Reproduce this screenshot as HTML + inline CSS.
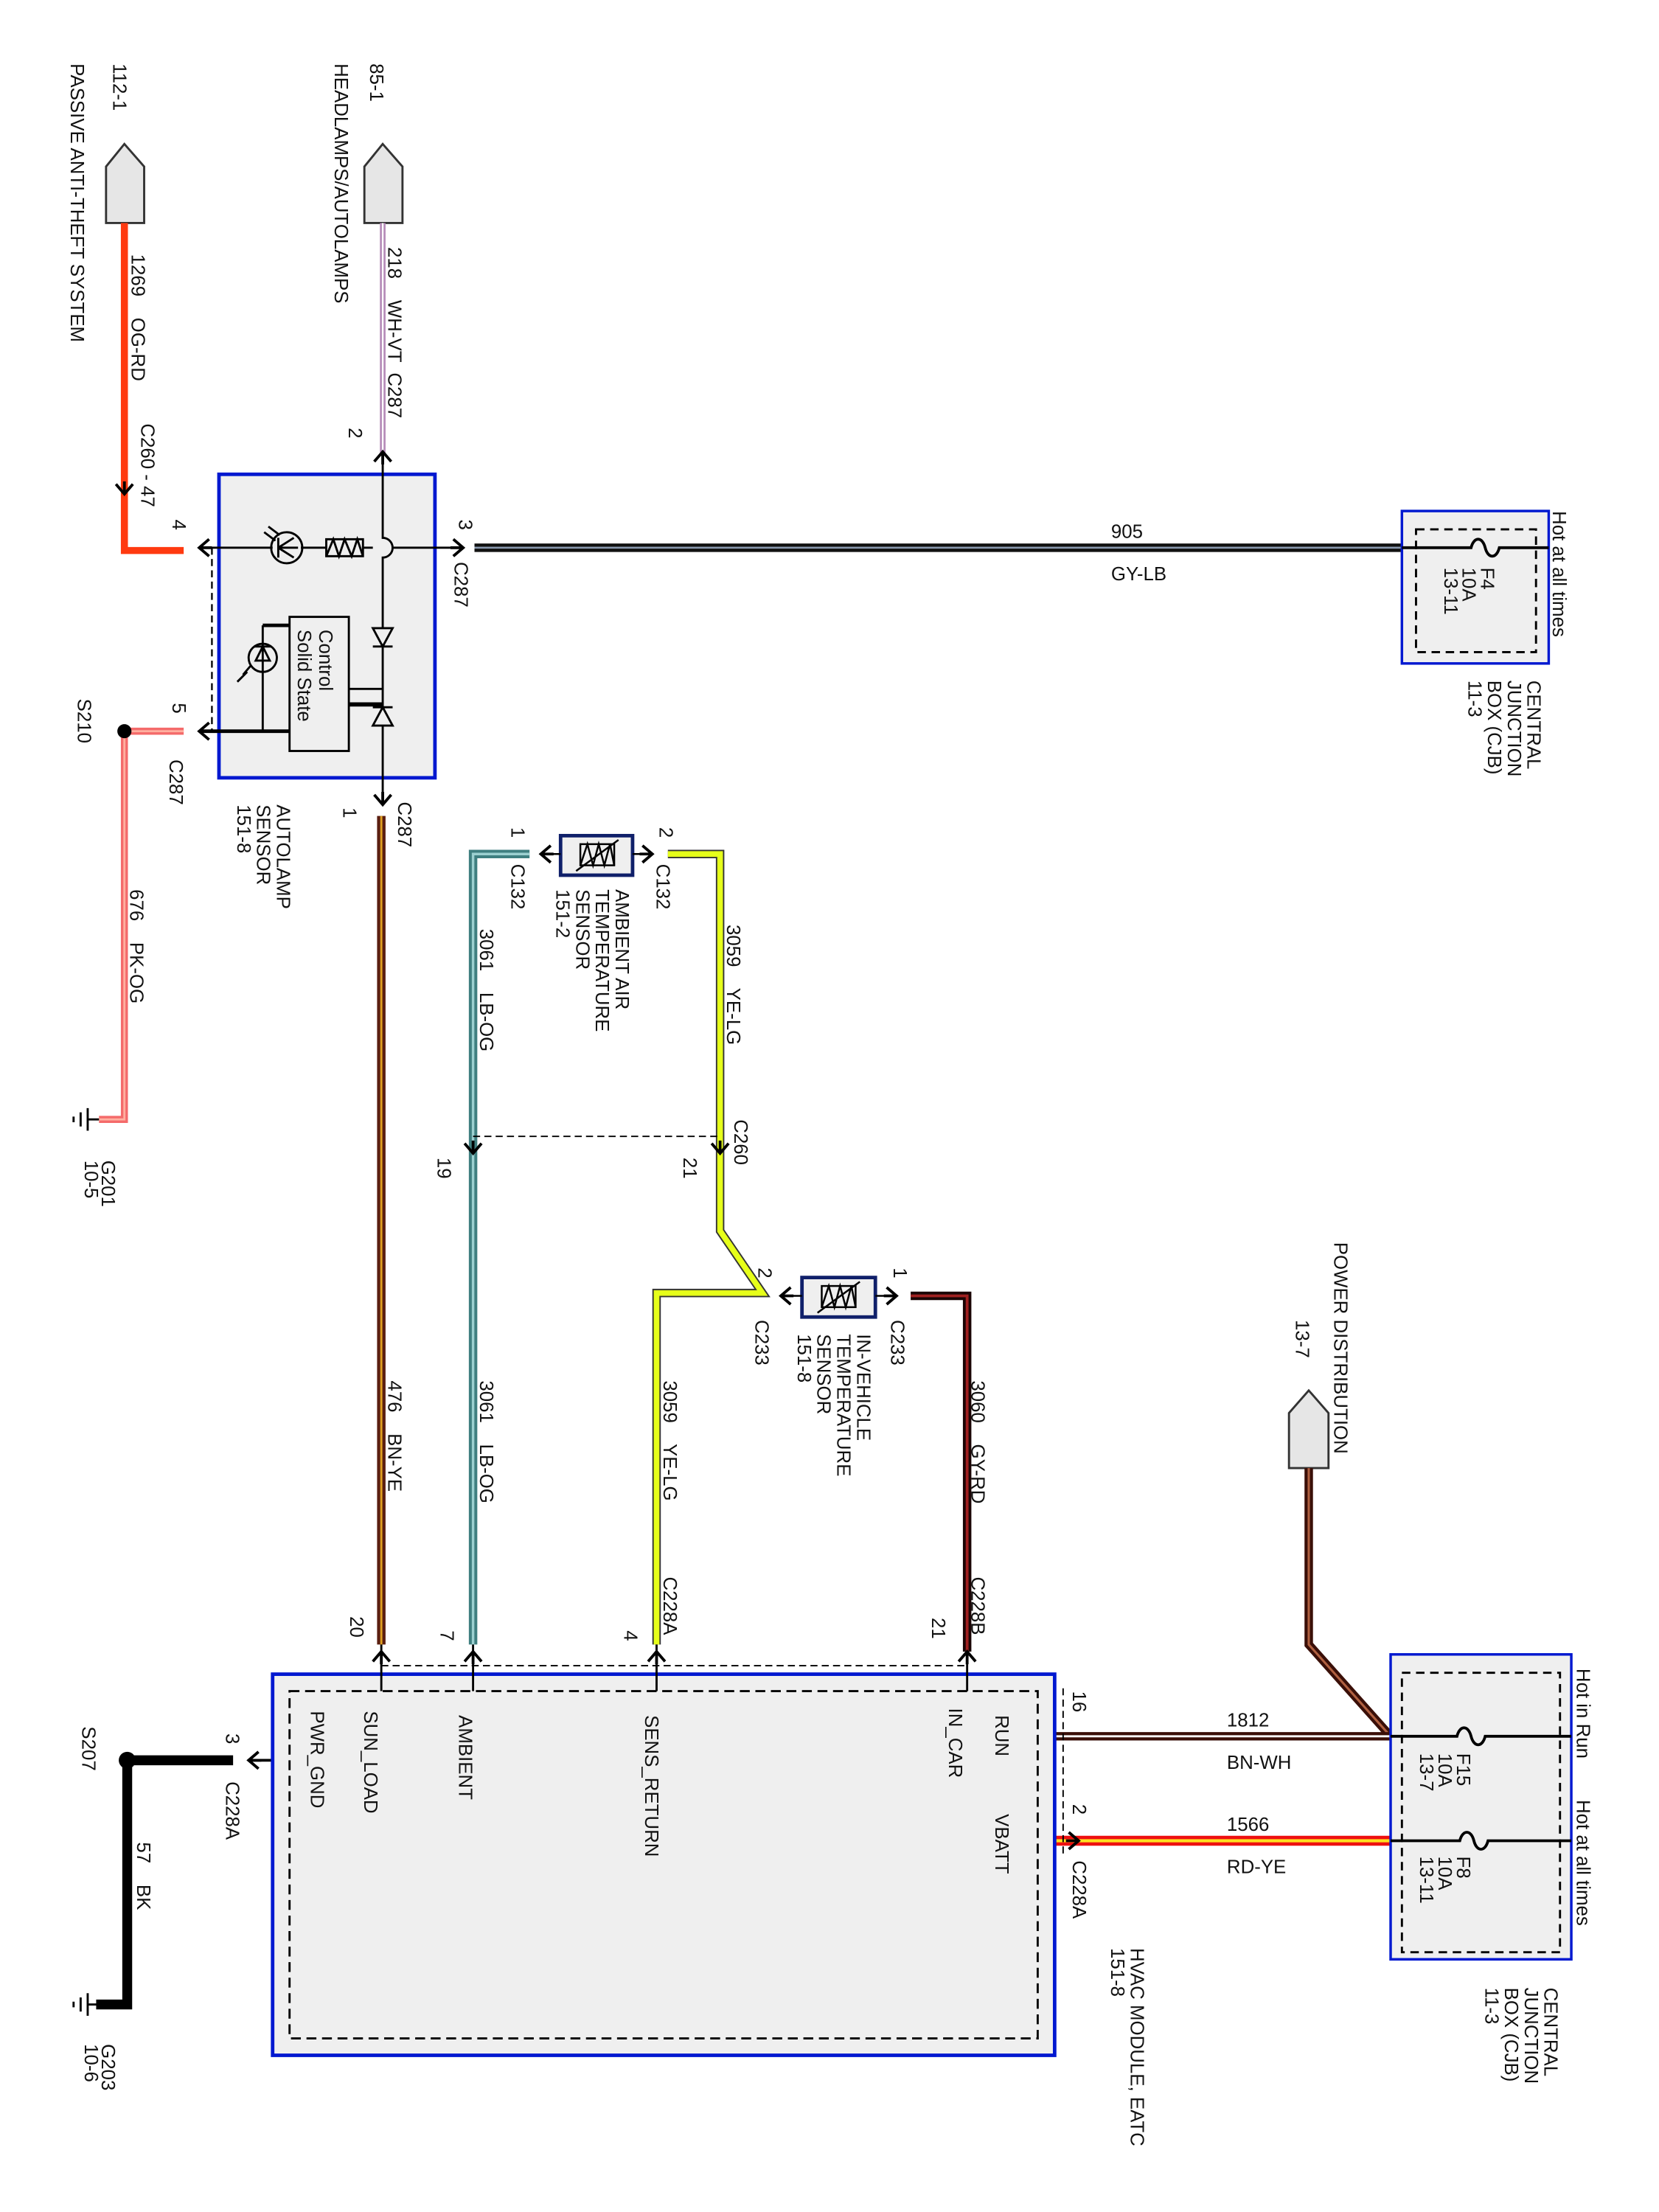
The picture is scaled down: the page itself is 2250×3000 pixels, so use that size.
<!DOCTYPE html>
<html><head><meta charset="utf-8"><style>
html,body{margin:0;padding:0;background:#fff;width:2250px;height:3000px;overflow:hidden}
svg text{font-family:"Liberation Sans",Arial,sans-serif;font-size:13.5px;fill:#111;white-space:pre}
</style></head><body>
<svg width="2250" height="3000" viewBox="0 0 1175 1567" xmlns="http://www.w3.org/2000/svg" xml:space="preserve">
<defs>
<path id="chev" d="M-6,-5 L0,2 L6,-5 M0,2 L0,-7" fill="none" stroke="#000" stroke-width="2"/>
</defs>
<rect width="1175" height="1567" fill="#fff"/>

<path d="M88,102 L102,118 L102,158 L75,158 L75,118 Z" fill="#e6e6e6" stroke="#333" stroke-width="1.5"/>
<path d="M271,102 L285,118 L285,158 L258,158 L258,118 Z" fill="#e6e6e6" stroke="#333" stroke-width="1.5"/>
<path d="M927,985 L941,1001 L941,1040 L913,1040 L913,1001 Z" fill="#e6e6e6" stroke="#333" stroke-width="1.5"/>

<path d="M88,158 L88,390 L130,390" fill="none" stroke="#ff3a10" stroke-width="5"/>
<path d="M271,158 L271,322" fill="none" stroke="#b58ab8" stroke-width="4"/>
<path d="M271,158 L271,322" fill="none" stroke="#fff" stroke-width="1.2"/>
<path d="M336,388 L993,388" stroke="#111" stroke-width="6"/>
<path d="M336,388 L993,388" stroke="#8a9ab0" stroke-width="1.4"/>
<path d="M130,518 L88,518 L88,793 L70,793" fill="none" stroke="#f46a6a" stroke-width="5"/>
<path d="M130,518 L88,518 L88,793 L70,793" fill="none" stroke="#ffb0a0" stroke-width="1.5"/>
<path d="M270,578 L270,1165" stroke="#5a1e10" stroke-width="6"/>
<path d="M270,578 L270,1165" stroke="#e0a020" stroke-width="1.5"/>
<path d="M375,605 L335,605 L335,1165" fill="none" stroke="#3f7f80" stroke-width="6"/>
<path d="M375,605 L335,605 L335,1165" fill="none" stroke="#9cd0d0" stroke-width="1.8"/>
<path d="M473,605 L510,605 L510,872 L540,916 L465,916 L465,1165" fill="none" stroke="#333" stroke-width="6"/>
<path d="M473,605 L510,605 L510,872 L540,916 L465,916 L465,1165" fill="none" stroke="#e6ff1a" stroke-width="4"/>
<path d="M645,918 L685,918 L685,1170" fill="none" stroke="#1a0505" stroke-width="6"/>
<path d="M645,918 L685,918 L685,1170" fill="none" stroke="#a02020" stroke-width="2"/>
<path d="M927,1040 L927,1165 L985,1230" fill="none" stroke="#3a0f08" stroke-width="6"/>
<path d="M927,1040 L927,1165 L985,1230" fill="none" stroke="#b06040" stroke-width="1.6"/>
<path d="M747,1230 L985,1230" stroke="#3a0f08" stroke-width="6"/>
<path d="M747,1230 L985,1230" stroke="#fff" stroke-width="1.5"/>
<path d="M747,1304 L985,1304" stroke="#ee1010" stroke-width="7"/>
<path d="M747,1304 L985,1304" stroke="#ffe020" stroke-width="2.2"/>
<path d="M165,1247 L90,1247 L90,1420 L68,1420" fill="none" stroke="#000" stroke-width="7"/>
<line x1="735" y1="1230" x2="747" y2="1230" stroke="#000" stroke-width="2"/>
<line x1="735" y1="1304" x2="747" y2="1304" stroke="#000" stroke-width="2"/>
<line x1="178" y1="1247" x2="193" y2="1247" stroke="#000" stroke-width="2"/>

<circle cx="88" cy="518" r="5" fill="#000"/>
<circle cx="90" cy="1247" r="6" fill="#000"/>

<g stroke="#000" stroke-width="1.5"><line x1="62" y1="785" x2="62" y2="801"/><line x1="57" y1="788" x2="57" y2="798"/><line x1="52" y1="791" x2="52" y2="795"/><line x1="62" y1="793" x2="70" y2="793"/></g>
<g stroke="#000" stroke-width="1.5"><line x1="62" y1="1412" x2="62" y2="1428"/><line x1="57" y1="1415" x2="57" y2="1425"/><line x1="52" y1="1418" x2="52" y2="1422"/><line x1="62" y1="1420" x2="70" y2="1420"/></g>

<rect x="155" y="336" width="153" height="215" fill="#efefef" stroke="#0018d0" stroke-width="2.5"/>
<line x1="150" y1="388" x2="150" y2="518" stroke="#000" stroke-width="1.2" stroke-dasharray="5,3"/>
<g stroke="#000" stroke-width="1.5" fill="none">
<path d="M271,322 L271,381 A7,7 0 0 1 271,395 L271,445"/>
<path d="M271,458 L271,501"/>
<path d="M271,514 L271,568"/>
<path d="M143,388 L193,388 M213,388 L231,388 M257,388 L264,388 M278,388 L326,388"/>
<rect x="231" y="382" width="26" height="12"/>
<path d="M231,394 L236,382 L240,394 L244,382 L249,394 L253,382 L257,394"/>
<circle cx="203" cy="388" r="11"/>
<path d="M197,388 L211,388 M197,381 L197,395 M197,388 L208,381 M197,388 L208,395"/>
<path d="M187,377 L195,383 M190,373 L198,379"/>
<path d="M264,445 L278,445 L271,458 Z M264,458 L278,458"/>
<path d="M264,514 L278,514 L271,501 Z M264,501 L278,501"/>
<rect x="205" y="437" width="42" height="95" fill="#efefef"/>
<path d="M247,488 L271,488"/>
<path d="M247,499 L271,499" stroke-width="3"/>
<path d="M143,518 L205,518" stroke-width="2.5"/>
<circle cx="186" cy="466" r="10"/>
<path d="M186,443 L186,518 M181,468 L191,468 L186,458 Z M180,458 L192,458"/>
<path d="M186,443 L205,443" stroke-width="2.5"/>
<path d="M172,478 L178,471 M168,483 L175,476"/>
</g>
<text transform="translate(226,446) rotate(90)">Control</text>
<text transform="translate(211,446) rotate(90)">Solid State</text>

<rect x="397" y="592" width="51" height="28" fill="#efefef" stroke="#10206a" stroke-width="2.5"/>
<g stroke="#000" stroke-width="1.3" fill="none"><rect x="411" y="598" width="24" height="15"/><path d="M411,613 L416,598 L420,613 L424,598 L428,613 L432,598 L435,613 M408,617 L438,595"/><path d="M385,605 L397,605 M448,605 L460,605"/></g>
<rect x="568" y="905" width="52" height="28" fill="#efefef" stroke="#10206a" stroke-width="2.5"/>
<g stroke="#000" stroke-width="1.3" fill="none"><rect x="582" y="911" width="24" height="15"/><path d="M582,926 L587,911 L591,926 L595,911 L599,926 L603,911 L606,926 M579,930 L609,908"/><path d="M555,918 L568,918 M620,918 L633,918"/></g>

<line x1="335" y1="805" x2="510" y2="805" stroke="#000" stroke-width="1" stroke-dasharray="5,3"/>

<rect x="193" y="1186" width="554" height="270" fill="#efefef" stroke="#0018d0" stroke-width="2.5"/>
<rect x="205" y="1198" width="530" height="246" fill="none" stroke="#000" stroke-width="1.5" stroke-dasharray="7,4"/>
<line x1="270" y1="1180" x2="685" y2="1180" stroke="#000" stroke-width="1" stroke-dasharray="5,3"/>
<g stroke="#000" stroke-width="1.5"><line x1="270" y1="1165" x2="270" y2="1198"/><line x1="335" y1="1165" x2="335" y2="1198"/><line x1="465" y1="1165" x2="465" y2="1198"/><line x1="685" y1="1170" x2="685" y2="1198"/></g>
<line x1="753" y1="1196" x2="753" y2="1315" stroke="#000" stroke-width="1" stroke-dasharray="5,3"/>

<rect x="993" y="362" width="104" height="108" fill="#efefef" stroke="#0018d0" stroke-width="1.8"/>
<rect x="1003" y="375" width="85" height="87" fill="none" stroke="#000" stroke-width="1.5" stroke-dasharray="6,4"/>
<path d="M993,388 L1042,388 C1044,380 1050,380 1052,388 C1054,396 1060,396 1062,388 L1097,388" fill="none" stroke="#000" stroke-width="2"/>
<rect x="985" y="1172" width="128" height="216" fill="#efefef" stroke="#0018d0" stroke-width="1.8"/>
<rect x="993" y="1185" width="112" height="198" fill="none" stroke="#000" stroke-width="1.5" stroke-dasharray="6,4"/>
<path d="M985,1230 L1032,1230 C1034,1222 1040,1222 1042,1230 C1044,1238 1050,1238 1052,1230 L1113,1230" fill="none" stroke="#000" stroke-width="2"/>
<path d="M985,1304 L1034,1304 C1036,1296 1042,1296 1044,1304 C1046,1312 1052,1312 1054,1304 L1113,1304" fill="none" stroke="#000" stroke-width="2"/>

<use href="#chev" transform="translate(88,348)"/>
<use href="#chev" transform="translate(271,322) rotate(180)"/>
<use href="#chev" transform="translate(143,388) rotate(90)"/>
<use href="#chev" transform="translate(143,518) rotate(90)"/>
<use href="#chev" transform="translate(326,388) rotate(-90)"/>
<use href="#chev" transform="translate(271,568)"/>
<use href="#chev" transform="translate(385,605) rotate(90)"/>
<use href="#chev" transform="translate(460,605) rotate(-90)"/>
<use href="#chev" transform="translate(335,815)"/>
<use href="#chev" transform="translate(510,815)"/>
<use href="#chev" transform="translate(555,918) rotate(90)"/>
<use href="#chev" transform="translate(633,918) rotate(-90)"/>
<use href="#chev" transform="translate(270,1172) rotate(180)"/>
<use href="#chev" transform="translate(335,1172) rotate(180)"/>
<use href="#chev" transform="translate(465,1172) rotate(180)"/>
<use href="#chev" transform="translate(685,1172) rotate(180)"/>
<use href="#chev" transform="translate(178,1247) rotate(90)"/>
<use href="#chev" transform="translate(762,1304) rotate(-90)"/>

<text transform="translate(80,45) rotate(90)">112-1</text>
<text transform="translate(50,45) rotate(90)">PASSIVE ANTI-THEFT SYSTEM</text>
<text transform="translate(93,180) rotate(90)">1269    OG-RD</text>
<text transform="translate(100,300) rotate(90)">C260 - 47</text>
<text transform="translate(122,368) rotate(90)">4</text>
<text transform="translate(262,45) rotate(90)">85-1</text>
<text transform="translate(237,45) rotate(90)">HEADLAMPS/AUTOLAMPS</text>
<text transform="translate(275,175) rotate(90)">218    WH-VT  C287</text>
<text transform="translate(247,303) rotate(90)">2</text>
<text transform="translate(325,368) rotate(90)">3</text>
<text transform="translate(322,398) rotate(90)">C287</text>
<text transform="translate(122,498) rotate(90)">5</text>
<text transform="translate(120,538) rotate(90)">C287</text>
<text transform="translate(55,495) rotate(90)">S210</text>
<text transform="translate(92,630) rotate(90)">676    PK-OG</text>
<text transform="translate(72,822) rotate(90)">G201</text>
<text transform="translate(60,822) rotate(90)">10-5</text>
<text transform="translate(196,570) rotate(90)">AUTOLAMP</text>
<text transform="translate(182,570) rotate(90)">SENSOR</text>
<text transform="translate(168,570) rotate(90)">151-8</text>
<text transform="translate(243,572) rotate(90)">1</text>
<text transform="translate(282,568) rotate(90)">C287</text>
<text transform="translate(275,978) rotate(90)">476    BN-YE</text>
<text transform="translate(248,1145) rotate(90)">20</text>
<text transform="translate(362,586) rotate(90)">1</text>
<text transform="translate(362,612) rotate(90)">C132</text>
<text transform="translate(436,630) rotate(90)">AMBIENT AIR</text>
<text transform="translate(422,630) rotate(90)">TEMPERATURE</text>
<text transform="translate(408,630) rotate(90)">SENSOR</text>
<text transform="translate(394,630) rotate(90)">151-2</text>
<text transform="translate(467,586) rotate(90)">2</text>
<text transform="translate(465,612) rotate(90)">C132</text>
<text transform="translate(340,658) rotate(90)">3061    LB-OG</text>
<text transform="translate(515,655) rotate(90)">3059    YE-LG</text>
<text transform="translate(520,793) rotate(90)">C260</text>
<text transform="translate(310,820) rotate(90)">19</text>
<text transform="translate(484,820) rotate(90)">21</text>
<text transform="translate(340,978) rotate(90)">3061    LB-OG</text>
<text transform="translate(537,898) rotate(90)">2</text>
<text transform="translate(535,935) rotate(90)">C233</text>
<text transform="translate(633,898) rotate(90)">1</text>
<text transform="translate(631,935) rotate(90)">C233</text>
<text transform="translate(607,945) rotate(90)">IN-VEHICLE</text>
<text transform="translate(593,945) rotate(90)">TEMPERATURE</text>
<text transform="translate(579,945) rotate(90)">SENSOR</text>
<text transform="translate(565,945) rotate(90)">151-8</text>
<text transform="translate(470,978) rotate(90)">3059    YE-LG</text>
<text transform="translate(470,1117) rotate(90)">C228A</text>
<text transform="translate(442,1155) rotate(90)">4</text>
<text transform="translate(312,1155) rotate(90)">7</text>
<text transform="translate(688,978) rotate(90)">3060    GY-RD</text>
<text transform="translate(688,1117) rotate(90)">C228B</text>
<text transform="translate(660,1146) rotate(90)">21</text>
<text transform="translate(258,1212) rotate(90)">SUN_LOAD</text>
<text transform="translate(220,1212) rotate(90)">PWR_GND</text>
<text transform="translate(325,1215) rotate(90)">AMBIENT</text>
<text transform="translate(457,1215) rotate(90)">SENS_RETURN</text>
<text transform="translate(672,1210) rotate(90)">IN_CAR</text>
<text transform="translate(705,1215) rotate(90)">RUN</text>
<text transform="translate(705,1285) rotate(90)">VBATT</text>
<text transform="translate(760,1198) rotate(90)">16</text>
<text transform="translate(760,1278) rotate(90)">2</text>
<text transform="translate(760,1318) rotate(90)">C228A</text>
<text transform="translate(801,1380) rotate(90)">HVAC MODULE, EATC</text>
<text transform="translate(787,1380) rotate(90)">151-8</text>
<text transform="translate(160,1228) rotate(90)">3</text>
<text transform="translate(160,1262) rotate(90)">C228A</text>
<text transform="translate(58,1223) rotate(90)">S207</text>
<text transform="translate(97,1305) rotate(90)">57    BK</text>
<text transform="translate(72,1448) rotate(90)">G203</text>
<text transform="translate(60,1448) rotate(90)">10-6</text>
<text transform="translate(945,880) rotate(90)">POWER DISTRIBUTION</text>
<text transform="translate(918,935) rotate(90)">13-7</text>
<text transform="translate(1049,402) rotate(90)">F4</text>
<text transform="translate(1036,402) rotate(90)">10A</text>
<text transform="translate(1023,402) rotate(90)">13-11</text>
<text transform="translate(1100,362) rotate(90)">Hot at all times</text>
<text transform="translate(1082,482) rotate(90)">CENTRAL</text>
<text transform="translate(1068,482) rotate(90)">JUNCTION</text>
<text transform="translate(1054,482) rotate(90)">BOX (CJB)</text>
<text transform="translate(1040,482) rotate(90)">11-3</text>
<text transform="translate(1032,1242) rotate(90)">F15</text>
<text transform="translate(1019,1242) rotate(90)">10A</text>
<text transform="translate(1006,1242) rotate(90)">13-7</text>
<text transform="translate(1032,1315) rotate(90)">F8</text>
<text transform="translate(1019,1315) rotate(90)">10A</text>
<text transform="translate(1006,1315) rotate(90)">13-11</text>
<text transform="translate(1117,1182) rotate(90)">Hot in Run</text>
<text transform="translate(1117,1275) rotate(90)">Hot at all times</text>
<text transform="translate(1094,1408) rotate(90)">CENTRAL</text>
<text transform="translate(1080,1408) rotate(90)">JUNCTION</text>
<text transform="translate(1066,1408) rotate(90)">BOX (CJB)</text>
<text transform="translate(1052,1408) rotate(90)">11-3</text>

<text x="787" y="381">905</text>
<text x="787" y="411">GY-LB</text>
<text x="869" y="1223">1812</text>
<text x="869" y="1253">BN-WH</text>
<text x="869" y="1297">1566</text>
<text x="869" y="1327">RD-YE</text>
</svg>
</body></html>
